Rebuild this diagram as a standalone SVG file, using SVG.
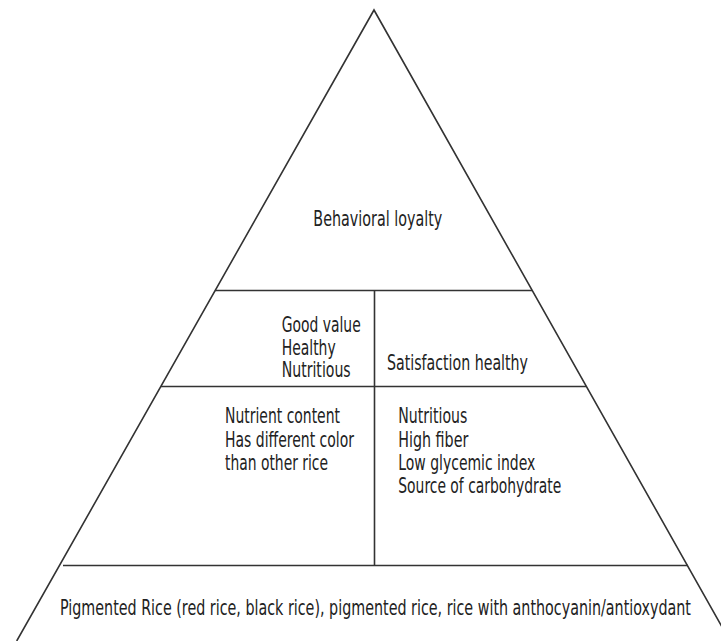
<svg xmlns="http://www.w3.org/2000/svg" width="721" height="641" viewBox="0 0 721 641">
<style>
.ln{stroke:#333;stroke-width:1.6;fill:none;stroke-linecap:butt}
text{font-family:"Liberation Sans Narrow","DejaVu Sans Condensed","Liberation Sans",sans-serif;font-size:22px;fill:#222}
</style>
<rect width="721" height="641" fill="#fff"/>
<g id="pyramid">
<polyline class="ln" points="16.7,641 374,10 730,641"/>
<line class="ln" x1="215" y1="290.5" x2="532" y2="290.5"/>
<line class="ln" x1="161" y1="386.5" x2="586" y2="386.5"/>
<line class="ln" x1="63" y1="565.5" x2="688" y2="565.5"/>
<line class="ln" x1="374.5" y1="290.5" x2="374.5" y2="565.5"/>
</g>
<g id="top">
<text x="313.3" y="226" textLength="129" lengthAdjust="spacingAndGlyphs">Behavioral loyalty</text>
</g>
<g id="mid-left">
<text x="281.7" y="331.7" textLength="79" lengthAdjust="spacingAndGlyphs">Good value</text>
<text x="281.7" y="354.5" textLength="54" lengthAdjust="spacingAndGlyphs">Healthy</text>
<text x="281.7" y="377" textLength="69" lengthAdjust="spacingAndGlyphs">Nutritious</text>
</g>
<g id="mid-right">
<text x="387" y="369.5" textLength="141" lengthAdjust="spacingAndGlyphs">Satisfaction healthy</text>
</g>
<g id="low-left">
<text x="225" y="422.5" textLength="115" lengthAdjust="spacingAndGlyphs">Nutrient content</text>
<text x="225" y="446.5" textLength="129" lengthAdjust="spacingAndGlyphs">Has different color</text>
<text x="225" y="470" textLength="103" lengthAdjust="spacingAndGlyphs">than other rice</text>
</g>
<g id="low-right">
<text x="398.3" y="423.3" textLength="69" lengthAdjust="spacingAndGlyphs">Nutritious</text>
<text x="398.3" y="446.7" textLength="70" lengthAdjust="spacingAndGlyphs">High fiber</text>
<text x="398.3" y="470" textLength="137" lengthAdjust="spacingAndGlyphs">Low glycemic index</text>
<text x="398.3" y="493" textLength="163" lengthAdjust="spacingAndGlyphs">Source of carbohydrate</text>
</g>
<g id="base">
<text transform="scale(0.75,1)" x="80" y="615" textLength="841.3" lengthAdjust="spacingAndGlyphs">Pigmented Rice (red rice, black rice), pigmented rice, rice with anthocyanin/antioxydant</text>
</g>
</svg>
